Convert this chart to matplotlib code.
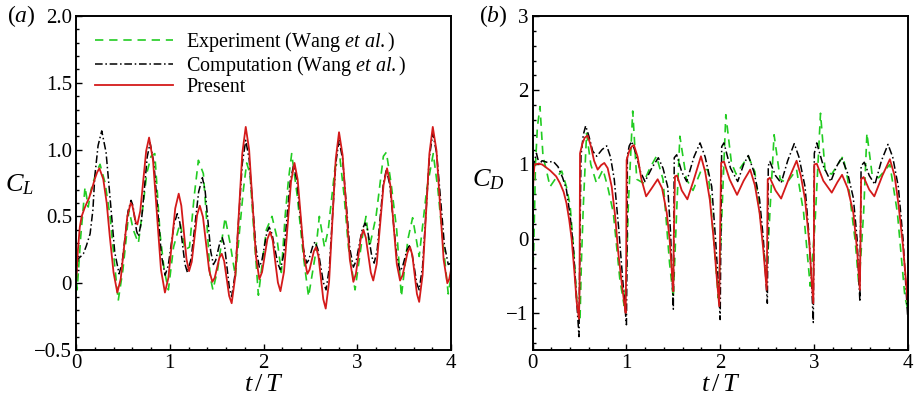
# Lift / drag coefficient histories - comparison with Wang et al.
import numpy as np
import matplotlib
matplotlib.use('Agg')
import matplotlib.pyplot as plt
from matplotlib.ticker import MultipleLocator, FixedLocator, FixedFormatter

plt.rcParams['font.family'] = ['Liberation Serif', 'DejaVu Serif']
plt.rcParams['mathtext.fontset'] = 'custom'
plt.rcParams['mathtext.rm'] = 'Liberation Serif'
plt.rcParams['mathtext.it'] = 'Liberation Serif:italic'

# ------------------------------------------
# (a) lift coefficient C_L
# ------------------------------------------
t_cl_exp = [0, 0.012, 0.05, 0.096, 0.13, 0.16, 0.21, 0.256, 0.31, 0.363, 0.41, 0.45, 0.50, 0.54,
            0.565, 0.61, 0.665, 0.71, 0.754, 0.80, 0.84, 0.896, 0.94, 0.985, 1.04, 1.11, 1.163,
            1.21, 1.26, 1.305, 1.358, 1.40, 1.43, 1.46, 1.51, 1.59, 1.643, 1.70, 1.745, 1.785,
            1.82, 1.855, 1.90, 1.945, 2.03, 2.09, 2.14, 2.19, 2.23, 2.265, 2.30, 2.36, 2.425,
            2.48, 2.55, 2.595, 2.65, 2.69, 2.763, 2.816, 2.86, 2.905, 2.976, 3.065, 3.093, 3.13,
            3.2, 3.278, 3.31, 3.36, 3.42, 3.47, 3.54, 3.59, 3.66, 3.74, 3.81, 3.86, 3.9, 3.97, 4.0]
cl_exp = [0.10, -0.05, 0.35, 0.72, 0.57, 0.70, 0.82, 0.89, 0.75, 0.50, 0.15, -0.13, 0.10, 0.37,
          0.55, 0.40, 0.30, 0.55, 0.82, 0.95, 0.97, 0.37, 0.10, -0.05, 0.27, 0.45, 0.25,
          0.27, 0.65, 0.92, 0.82, 0.40, 0.05, -0.05, 0.10, 0.49, 0.30, 0.05, 0.40, 0.70,
          0.90, 0.82, 0.35, -0.09, 0.40, 0.50, 0.35, 0.08, 0.50, 0.77, 0.97, 0.65, 0.20,
          -0.10, 0.20, 0.50, 0.27, 0.40, 0.87, 0.93, 0.65, 0.27, -0.05, 0.40, 0.50, 0.27,
          0.50, 0.95, 0.98, 0.75, 0.40, -0.10, 0.33, 0.49, 0.20, 0.70, 0.97, 0.70, 0.40, -0.08, 0.05]

t_cl_comp = [0, 0.02, 0.05, 0.078, 0.11, 0.15, 0.18, 0.2, 0.235, 0.274, 0.32, 0.367, 0.413, 0.459,
             0.491, 0.523, 0.555, 0.587, 0.607, 0.626, 0.646, 0.665, 0.696, 0.728, 0.759, 0.79,
             0.83, 0.87, 0.91, 0.95, 0.983, 1.015, 1.048, 1.08, 1.107, 1.134, 1.161, 1.188,
             1.228, 1.268, 1.308, 1.348, 1.377, 1.407, 1.436, 1.465, 1.489, 1.513, 1.536, 1.56,
             1.585, 1.61, 1.635, 1.66, 1.698, 1.735, 1.773, 1.81, 1.846, 1.883, 1.919, 1.955,
             1.981, 2.008, 2.034, 2.06, 2.09, 2.12, 2.15, 2.18, 2.215, 2.25, 2.285, 2.32, 2.355,
             2.39, 2.425, 2.46, 2.483, 2.505, 2.528, 2.55, 2.579, 2.609, 2.638, 2.667, 2.702,
             2.736, 2.771, 2.805, 2.843, 2.882, 2.92, 2.958, 2.989, 3.02, 3.052, 3.083, 3.107,
             3.132, 3.156, 3.18, 3.213, 3.245, 3.278, 3.31, 3.347, 3.383, 3.42, 3.456, 3.481,
             3.506, 3.53, 3.555, 3.581, 3.608, 3.634, 3.66, 3.696, 3.733, 3.769, 3.805, 3.846,
             3.888, 3.929, 3.97, 4.0]
cl_comp = [0.05, 0.18, 0.20, 0.22, 0.28, 0.37, 0.55, 0.80, 1.03, 1.14, 0.98, 0.605, 0.23, 0.07,
           0.15, 0.345, 0.54, 0.62, 0.58, 0.485, 0.39, 0.35, 0.455, 0.70, 0.945, 1.05,
           0.90, 0.555, 0.21, 0.06, 0.13, 0.29, 0.45, 0.52, 0.455, 0.30, 0.145, 0.08,
           0.185, 0.435, 0.685, 0.79, 0.69, 0.465, 0.24, 0.14, 0.17, 0.24, 0.31, 0.34,
           0.275, 0.12, -0.035, -0.10, 0.075, 0.485, 0.895, 1.07, 0.93, 0.595, 0.26, 0.12,
           0.165, 0.27, 0.375, 0.42, 0.37, 0.26, 0.15, 0.10, 0.215, 0.49, 0.765, 0.88, 0.77,
           0.515, 0.26, 0.15, 0.175, 0.23, 0.285, 0.31, 0.255, 0.13, 0.005, -0.05, 0.12,
           0.51, 0.90, 1.07, 0.93, 0.595, 0.26, 0.12, 0.17, 0.285, 0.40, 0.45, 0.405,
           0.30, 0.195, 0.15, 0.255, 0.50, 0.745, 0.85, 0.735, 0.47, 0.205, 0.09, 0.12,
           0.185, 0.25, 0.28, 0.23, 0.115, 0.0, -0.05, 0.125, 0.535, 0.945, 1.12, 0.975,
           0.63, 0.285, 0.14, 0.15]

t_cl_pres = [0, 0.02, 0.04, 0.06, 0.09, 0.114, 0.14, 0.167, 0.20, 0.225, 0.249, 0.29, 0.327, 0.36,
             0.40, 0.44, 0.476, 0.512, 0.547, 0.583, 0.601, 0.618, 0.636, 0.654, 0.685, 0.717,
             0.748, 0.779, 0.821, 0.864, 0.906, 0.948, 0.985, 1.022, 1.058, 1.095, 1.123, 1.15,
             1.178, 1.205, 1.234, 1.263, 1.291, 1.32, 1.354, 1.387, 1.42, 1.454, 1.479, 1.504,
             1.529, 1.554, 1.58, 1.607, 1.633, 1.66, 1.698, 1.735, 1.773, 1.81, 1.846, 1.883,
             1.919, 1.955, 1.984, 2.013, 2.041, 2.07, 2.098, 2.125, 2.153, 2.18, 2.218, 2.255,
             2.293, 2.33, 2.364, 2.399, 2.433, 2.467, 2.49, 2.514, 2.537, 2.56, 2.586, 2.612,
             2.637, 2.663, 2.699, 2.734, 2.77, 2.805, 2.843, 2.882, 2.92, 2.958, 2.985, 3.012,
             3.038, 3.065, 3.091, 3.118, 3.144, 3.17, 3.207, 3.244, 3.28, 3.317, 3.352, 3.387,
             3.421, 3.456, 3.483, 3.51, 3.536, 3.563, 3.587, 3.612, 3.636, 3.66, 3.696, 3.733,
             3.769, 3.805, 3.844, 3.883, 3.921, 3.96, 3.98, 4.0]
cl_pres = [0.0, 0.25, 0.42, 0.50, 0.56, 0.60, 0.64, 0.70, 0.78, 0.83, 0.86, 0.78, 0.60, 0.35,
           0.08, -0.07, 0.03, 0.265, 0.50, 0.60, 0.58, 0.52, 0.46, 0.44, 0.54, 0.765,
           0.99, 1.09, 0.92, 0.51, 0.10, -0.07, 0.04, 0.30, 0.56, 0.67, 0.58, 0.38,
           0.18, 0.09, 0.16, 0.335, 0.51, 0.58, 0.495, 0.295, 0.095, 0.01, 0.04, 0.115,
           0.19, 0.22, 0.165, 0.035, -0.095, -0.15, 0.05, 0.51, 0.97, 1.17, 1.0, 0.60,
           0.20, 0.03, 0.083, 0.21, 0.33, 0.385, 0.32, 0.16, 0.005, -0.06, 0.085, 0.42,
           0.76, 0.90, 0.775, 0.485, 0.195, 0.07, 0.10, 0.17, 0.24, 0.27, 0.20, 0.04,
           -0.12, -0.19, 0.01, 0.47, 0.93, 1.13, 0.96, 0.57, 0.18, 0.01, 0.07, 0.205,
           0.34, 0.40, 0.34, 0.21, 0.08, 0.02, 0.145, 0.44, 0.735, 0.86, 0.735, 0.44,
           0.145, 0.02, 0.06, 0.145, 0.23, 0.27, 0.21, 0.065, -0.08, -0.14, 0.06, 0.515,
           0.97, 1.17, 0.995, 0.585, 0.175, 0.0, 0.03, 0.10]

# ------------------------------------------
# (b) drag coefficient C_D
# ------------------------------------------
t_cd_exp = [0, 0.01, 0.03, 0.05, 0.078, 0.11, 0.15, 0.185, 0.25, 0.31, 0.36, 0.40, 0.44, 0.47,
            0.505, 0.52, 0.54, 0.575, 0.62, 0.68, 0.75, 0.80, 0.86, 0.93, 0.975, 1.0, 1.02,
            1.067, 1.11, 1.18, 1.25, 1.32, 1.39, 1.46, 1.50, 1.535, 1.57, 1.64, 1.71, 1.80,
            1.87, 1.93, 1.98, 2.016, 2.06, 2.12, 2.17, 2.30, 2.37, 2.44, 2.496, 2.53, 2.575,
            2.64, 2.71, 2.815, 2.89, 2.96, 3.01, 3.07, 3.12, 3.19, 3.31, 3.36, 3.44, 3.48,
            3.53, 3.565, 3.62, 3.69, 3.81, 3.89, 3.97, 4.0]
cd_exp = [-0.55, -0.2, 1.0, 1.5, 1.78, 1.11, 0.90, 0.70, 0.82, 0.91, 0.70, 0.44, -0.20, -0.82,
          -1.09, -0.3, 0.44, 1.42, 1.0, 0.75, 0.93, 0.70, 0.35, -0.55, -0.90, -0.5, 0.44,
          1.72, 0.80, 0.75, 0.95, 1.11, 0.80, -0.33, -0.80, 0.35, 1.38, 0.80, 0.65, 0.93,
          0.93, 0.0, -0.80, 0.26, 1.67, 1.02, 0.87, 1.11, 0.90, 0.15, -0.55, 0.35, 1.40,
          0.80, 0.75, 0.93, 0.35, -0.64, 0.17, 1.69, 0.90, 0.87, 1.11, 0.80, -0.03, -0.64,
          0.35, 1.42, 0.87, 0.82, 1.0, 0.35, -0.78, -0.95]

t_cd_comp = [0, 0.02, 0.04, 0.07, 0.10, 0.15, 0.22, 0.27, 0.32, 0.36, 0.40, 0.433, 0.465, 0.494,
             0.50, 0.515, 0.54, 0.565, 0.60, 0.64, 0.683, 0.74, 0.79, 0.83, 0.87, 0.92, 0.96,
             1.0, 1.005, 1.01, 1.03, 1.056, 1.10, 1.15, 1.198, 1.27, 1.34, 1.39, 1.44, 1.47,
             1.50, 1.505, 1.51, 1.536, 1.59, 1.643, 1.72, 1.785, 1.84, 1.91, 1.95, 1.98, 2.0,
             2.005, 2.016, 2.04, 2.11, 2.187, 2.25, 2.30, 2.36, 2.42, 2.46, 2.503, 2.508,
             2.513, 2.53, 2.59, 2.65, 2.72, 2.79, 2.84, 2.905, 2.95, 2.975, 2.993, 2.998,
             3.004, 3.03, 3.10, 3.18, 3.24, 3.295, 3.36, 3.42, 3.46, 3.49, 3.495, 3.503,
             3.537, 3.59, 3.65, 3.72, 3.79, 3.84, 3.9, 3.95, 4.0]
cd_comp = [0.95, 1.05, 1.15, 1.0, 1.05, 1.03, 1.04, 0.97, 0.82, 0.66, 0.30, -0.10, -0.75, -1.32,
           -0.5, 1.11, 1.40, 1.52, 1.38, 1.18, 1.11, 1.20, 1.25, 1.10, 0.80, 0.10, -0.55,
           -1.16, -0.4, 1.12, 1.25, 1.31, 1.15, 0.90, 0.77, 0.95, 1.09, 0.95, 0.70, 0.10,
           -0.95, 0.0, 1.09, 1.13, 0.90, 0.77, 1.10, 1.29, 1.10, 0.70, 0.0, -0.6, -1.09,
           -0.3, 1.24, 1.29, 0.95, 0.77, 1.0, 1.12, 0.90, 0.53, 0.0, -0.87, -0.1,
           0.98, 1.04, 0.85, 0.75, 1.05, 1.28, 1.10, 0.70, 0.0, -0.6, -1.13, -0.3,
           1.15, 1.29, 0.98, 0.77, 0.97, 1.09, 0.88, 0.55, 0.0, -0.85, -0.1, 0.98,
           1.03, 0.85, 0.73, 1.05, 1.27, 1.10, 0.70, 0.0, -1.05]

t_cd_pres = [0, 0.01, 0.02, 0.06, 0.10, 0.185, 0.25, 0.29, 0.33, 0.36, 0.39, 0.416, 0.445, 0.469,
             0.494, 0.50, 0.505, 0.53, 0.555, 0.586, 0.62, 0.655, 0.693, 0.73, 0.764, 0.80,
             0.843, 0.88, 0.913, 0.95, 0.975, 0.992, 0.997, 1.002, 1.03, 1.055, 1.08, 1.12,
             1.16, 1.21, 1.27, 1.333, 1.38, 1.43, 1.46, 1.49, 1.50, 1.505, 1.518, 1.54, 1.59,
             1.65, 1.72, 1.795, 1.84, 1.89, 1.93, 1.965, 1.99, 1.995, 2.01, 2.04, 2.10, 2.18,
             2.25, 2.32, 2.37, 2.42, 2.46, 2.496, 2.50, 2.507, 2.53, 2.59, 2.65, 2.73, 2.815,
             2.86, 2.905, 2.95, 2.975, 2.993, 2.998, 3.004, 3.03, 3.10, 3.19, 3.25, 3.30, 3.36,
             3.42, 3.46, 3.49, 3.495, 3.503, 3.53, 3.59, 3.644, 3.73, 3.81, 3.86, 3.9, 3.95, 4.0]
cd_pres = [0.55, 0.85, 1.0, 1.01, 1.0, 0.92, 0.84, 0.75, 0.63, 0.48, 0.25, -0.01, -0.45, -0.85,
           -1.08, -0.6, 1.15, 1.28, 1.36, 1.39, 1.25, 1.05, 0.93, 0.99, 1.02, 0.95,
           0.70, 0.30, -0.19, -0.60, -0.85, -1.0, -0.4, 1.06, 1.18, 1.24, 1.26, 1.10,
           0.80, 0.57, 0.68, 0.80, 0.68, 0.35, 0.0, -0.55, -0.71, 0.0, 0.84, 0.85, 0.65,
           0.53, 0.80, 1.11, 0.90, 0.52, 0.0, -0.55, -0.91, -0.3, 1.02, 1.04, 0.80, 0.59,
           0.78, 0.93, 0.72, 0.35, -0.15, -0.69, -0.2, 0.80, 0.82, 0.65, 0.54, 0.80, 1.05,
           0.85, 0.53, -0.05, -0.55, -0.87, -0.3, 1.0, 1.01, 0.78, 0.62, 0.76, 0.86, 0.68,
           0.35, -0.15, -0.69, -0.2, 0.80, 0.83, 0.66, 0.57, 0.85, 1.07, 0.85, 0.48, -0.1, -0.85]

labels = ['Experiment (Wang $et\\ al.$)', 'Computation (Wang $et\\ al.$)', 'Present']

green = '#22cc22'
red = '#d41a1a'

# ------------------------------------------
# FIGURE
# ------------------------------------------
fig = plt.figure(figsize=(9.14, 4.04), dpi=100)
ax1 = fig.add_axes([0.0832, 0.1337, 0.4103, 0.8267])
ax2 = fig.add_axes([0.5828, 0.1337, 0.4103, 0.8267])

def style_axes(ax):
    for s in ax.spines.values():
        s.set_linewidth(1.4)
    ax.tick_params(which='both', direction='in', top=False, right=False,
                   labelsize=15, width=1.0)
    ax.tick_params(which='major', length=4.5, pad=3)
    ax.tick_params(which='minor', length=2.3)
    ax.xaxis.set_major_locator(MultipleLocator(1))
    ax.xaxis.set_minor_locator(MultipleLocator(0.2))
    ax.set_xlim(0, 4)
    ax.set_xlabel(r'$t\,/\,T$', fontsize=19)
    ax.xaxis.set_label_coords(0.5, -0.072)

# (a)
ax1.plot(t_cl_exp, cl_exp, color=green, lw=1.2, dashes=(5, 3.5), label=labels[0])
ax1.plot(t_cl_comp, cl_comp, color='black', lw=1.1, dashes=(5, 1.8, 1, 1.8), label=labels[1])
ax1.plot(t_cl_pres, cl_pres, color=red, lw=1.3, label=labels[2])
style_axes(ax1)
ax1.set_ylim(-0.5, 2.0)
ax1.yaxis.set_major_locator(FixedLocator([-0.5, 0, 0.5, 1.0, 1.5, 2.0]))
ax1.yaxis.set_major_formatter(FixedFormatter(['\u22120.5', '0', '0.5', '1.0', '1.5', '2.0']))
ax1.yaxis.set_minor_locator(MultipleLocator(0.1))
ax1.set_ylabel('$C_L$', fontsize=19, rotation=0, ha='center', va='center')
ax1.yaxis.set_label_coords(-0.151, 0.494)
ax1.legend(loc='upper left', bbox_to_anchor=(0.05, 0.958), frameon=False, fontsize=14.5,
           handlelength=3.9, handletextpad=0.65, labelspacing=0.0, borderpad=0,
           borderaxespad=0)

# (b)
ax2.plot(t_cd_exp, cd_exp, color=green, lw=1.2, dashes=(5, 3.5))
ax2.plot(t_cd_comp, cd_comp, color='black', lw=1.1, dashes=(5, 1.8, 1, 1.8))
ax2.plot(t_cd_pres, cd_pres, color=red, lw=1.3)
style_axes(ax2)
ax2.set_ylim(-1.5, 3.0)
ax2.yaxis.set_major_locator(FixedLocator([-1, 0, 1, 2, 3]))
ax2.yaxis.set_major_formatter(FixedFormatter(['\u22121', '0', '1', '2', '3']))
ax2.yaxis.set_minor_locator(MultipleLocator(0.2))
ax2.set_ylabel('$C_D$', fontsize=19, rotation=0, ha='center', va='center')
ax2.yaxis.set_label_coords(-0.117, 0.509)

fig.text(7 / 914, 1 - 16 / 404, '($a$)', fontsize=17, va='center', ha='left')
fig.text(479 / 914, 1 - 16 / 404, '($b$)', fontsize=17, va='center', ha='left')

plt.savefig('out.png', dpi=100)
